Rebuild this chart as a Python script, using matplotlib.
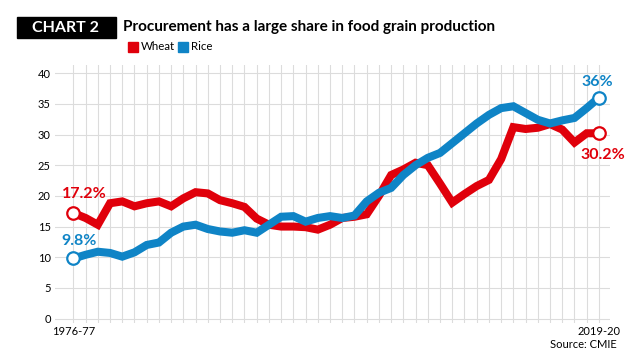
import matplotlib
matplotlib.use("Agg")
import matplotlib.pyplot as plt
from matplotlib.patches import Rectangle

# procurement as % of production, 1976-77 .. 2019-20
years = [f"{y}-{str(y + 1)[-2:]}" for y in range(1976, 2020)]
wheat = [17.2, 16.4, 15.3, 18.8, 19.1, 18.3, 18.8, 19.1, 18.3, 19.6,
         20.6, 20.4, 19.3, 18.8, 18.2, 16.3, 15.3, 15.0, 15.0, 14.9,
         14.5, 15.3, 16.4, 16.6, 17.0, 20.0, 23.4, 24.3, 25.4, 25.0,
         22.0, 18.9, 20.3, 21.6, 22.6, 26.0, 31.2, 30.9, 31.1, 31.7,
         30.8, 28.7, 30.2, 30.2]
rice = [9.8, 10.4, 10.9, 10.7, 10.1, 10.8, 12.0, 12.4, 14.0, 15.0,
        15.3, 14.6, 14.2, 14.0, 14.4, 14.0, 15.3, 16.6, 16.7, 15.8,
        16.4, 16.7, 16.4, 16.8, 19.1, 20.5, 21.3, 23.4, 25.0, 26.2,
        27.0, 28.6, 30.2, 31.8, 33.2, 34.3, 34.6, 33.5, 32.4, 31.8,
        32.3, 32.7, 34.3, 36.0]
yticks = [0, 5, 10, 15, 20, 25, 30, 35, 40]

RED = "#e0000b"
BLUE = "#0f84c6"
plt.rcParams["font.family"] = ["Lato", "DejaVu Sans"]

fig = plt.figure(figsize=(6.4, 3.6), dpi=100)
ax = fig.add_axes([0.086, 0.103, 0.867, 0.716])

x = list(range(len(years)))
ax.plot(x, wheat, color=RED, lw=5.8, solid_joinstyle="miter", zorder=3)
ax.plot(x, rice, color=BLUE, lw=5.8, solid_joinstyle="miter", zorder=4)

# open end-point markers
for s, c in [(wheat, RED), (rice, BLUE)]:
    ax.plot([x[0], x[-1]], [s[0], s[-1]], "o", ms=9, mfc="white", mec=c, mew=1.6, zorder=5)

lab = dict(fontsize=11.5, fontweight="bold", va="center")
ax.text(x[0] - 0.95, wheat[0] + 3.1, "17.2%", color=RED, ha="left", **lab)
ax.text(x[0] - 0.95, rice[0] + 2.9, "9.8%", color=BLUE, ha="left", **lab)
ax.text(x[-1] - 0.1, rice[-1] + 2.6, "36%", color=BLUE, ha="center", **lab)
ax.text(x[-1] + 0.3, wheat[-1] - 3.5, "30.2%", color=RED, ha="center", **lab)

ax.set_xlim(-1.5, 43.9)
ax.set_ylim(-0.7, 41.3)
ax.set_yticks(yticks)
ax.set_yticklabels([str(v) for v in yticks], fontsize=8)
ax.set_xticks(x)
ax.set_xticklabels([years[0]] + [""] * (len(x) - 2) + [years[-1]], fontsize=8)
ax.tick_params(length=0, pad=2)
ax.tick_params(axis="y", pad=3)
ax.grid(True, color="#dcdcdc", lw=0.8, zorder=0)
for sp in ax.spines.values():
    sp.set_visible(False)

# header
fig.patches.append(Rectangle((17 / 640, 1 - 38 / 360), 99 / 640, 21 / 360,
                             transform=fig.transFigure, color="black"))
fig.text(66 / 640, 1 - 27.5 / 360, "CHART 2", color="white", fontsize=11.5, fontweight="bold",
         ha="center", va="center")
fig.text(123 / 640, 1 - 27 / 360, "Procurement has a large share in food grain production",
         fontsize=11, fontweight="bold", ha="left", va="center")

# legend
fig.patches.append(Rectangle((128 / 640, 1 - 52 / 360), 10 / 640, 10 / 360,
                             transform=fig.transFigure, color=RED))
fig.text(141 / 640, 1 - 47 / 360, "Wheat", fontsize=8.3, ha="left", va="center")
fig.patches.append(Rectangle((178 / 640, 1 - 52 / 360), 10 / 640, 10 / 360,
                             transform=fig.transFigure, color=BLUE))
fig.text(191 / 640, 1 - 47 / 360, "Rice", fontsize=8.3, ha="left", va="center")

fig.text(617 / 640, 1 - 345 / 360, "Source: CMIE", fontsize=8, ha="right", va="center")

fig.savefig("out.png", dpi=100)
